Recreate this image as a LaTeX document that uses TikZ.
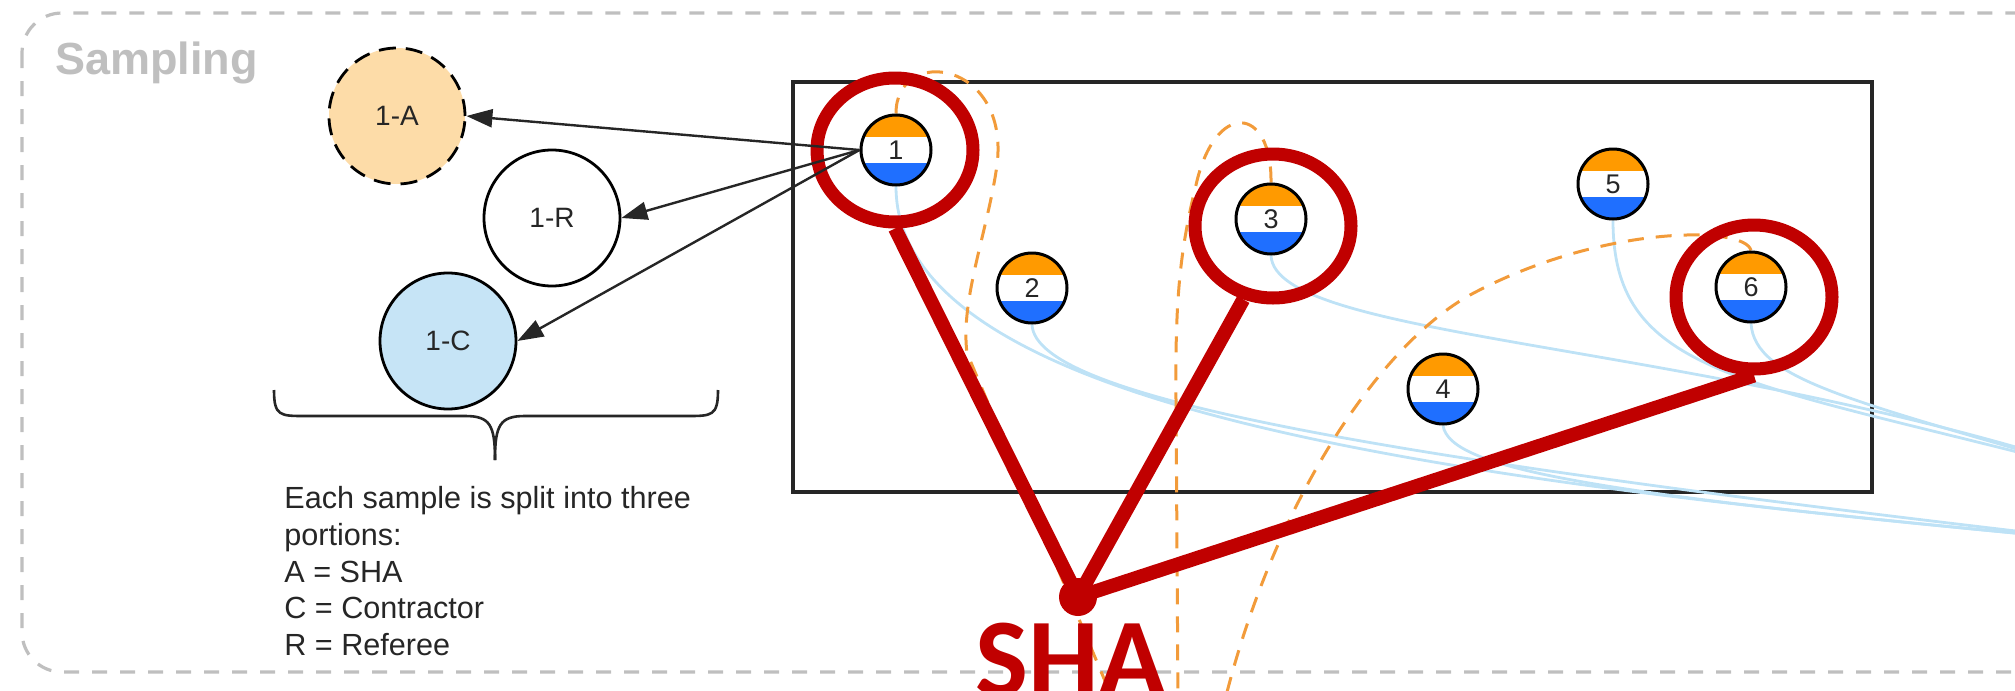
\documentclass[tikz,border=0pt]{standalone}
\usepackage{fontspec}
\setmainfont{Liberation Sans}
\newfontfamily\labfont{Carlito}
\usetikzlibrary{arrows.meta,shapes.geometric,backgrounds}

\definecolor{lanegray}{HTML}{BFBFBF}
\definecolor{portA}{HTML}{FDDCA8}
\definecolor{portC}{HTML}{C6E4F6}
\definecolor{bandorange}{HTML}{FF9A00}
\definecolor{bandblue}{HTML}{1F6FFF}
\definecolor{shared}{HTML}{C00000}
\definecolor{trackblue}{HTML}{BEE2F6}
\definecolor{trackorange}{HTML}{F29B3A}
\definecolor{ink}{HTML}{262626}

\begin{document}
\begin{tikzpicture}[x=0.5pt,y=-0.5pt,
  sample/.style={circle,draw=black,line width=1.5pt,fill=white,minimum size=35pt,inner sep=0pt,
    text=ink,font=\fontsize{13.5}{13.5}\selectfont,
    path picture={
      \fill[bandorange] (path picture bounding box.north west) rectangle ([yshift=-11pt]path picture bounding box.north east);
      \fill[bandblue] (path picture bounding box.south west) rectangle ([yshift=11pt]path picture bounding box.south east);}},
  portion/.style={circle,draw=black,line width=1.4pt,minimum size=68pt,inner sep=0pt,
    text=ink,font=\fontsize{14}{14}\selectfont},
  ring/.style={ellipse,draw=shared,line width=6.5pt,minimum width=78pt,minimum height=72pt,inner sep=0pt},
  track/.style={trackblue,line width=1.4pt},
  link/.style={trackorange,line width=1.5pt,dash pattern=on 8pt off 6pt},
  split/.style={-{Triangle[length=13pt,width=9pt]},line width=1.2pt,ink}]

\useasboundingbox (0,0) rectangle (2015,691);

% samples on the plot
\node[sample] (s1) at (896,150) {1};
\node[sample] (s2) at (1032,288) {2};
\node[sample] (s3) at (1271,219) {3};
\node[sample] (s4) at (1443,389) {4};
\node[sample] (s5) at (1613,184) {5};
\node[sample] (s6) at (1751,287) {6};

\coordinate (outC1) at (2110,542);
\coordinate (outC2) at (2110,476);
\coordinate (outA1) at (1113,700);
\coordinate (outA3) at (1178,700);
\coordinate (outA6) at (1225,700);

\begin{pgfonlayer}{background}
\draw[lanegray,line width=1.6pt,dash pattern=on 7.5pt off 6.5pt,rounded corners=20pt] (22,13) rectangle (2200,672);
\draw[ink,line width=1.6pt] (793,82) rectangle (1872,492);

% contractor portions
\draw[track] (s1.south) .. controls (896,420) and (1500,485) .. (outC1);
\draw[track] (s2.south) .. controls (1035,400) and (1400,460) .. (outC1);
\draw[track] (s4.south) .. controls (1450,470) and (1600,495) .. (outC1);
\draw[track] (s3.south) .. controls (1275,340) and (1700,340) .. (outC2);
\draw[track] (s5.south) .. controls (1613,380) and (1750,380) .. (outC2);
\draw[track] (s6.south) .. controls (1755,380) and (1850,400) .. (outC2);

% SHA portions
\draw[link] (s1.north) .. controls (896,45) and (1010,60) .. (997,165)
  .. controls (988,230) and (960,300) .. (967,353) -- (outA1);
\draw[link] (s3.north) .. controls (1272,105) and (1215,100) .. (1196,185)
  .. controls (1180,250) and (1175,300) .. (1176,400) -- (outA3);
\draw[link] (s6.north) .. controls (1745,225) and (1600,225) .. (1470,295)
  .. controls (1380,345) and (1275,500) .. (outA6);
\end{pgfonlayer}

\node[lanegray,font=\bfseries\fontsize{22.5}{22.5}\selectfont,anchor=base west,inner sep=0pt] (lane) at (55,74) {Sampling};

% split samples
\node[ring] (r1) at (895,150) {};
\node[ring] (r3) at (1273,226) {};
\node[ring] (r6) at (1754,297) {};
\node[circle,fill=shared,minimum size=19pt,inner sep=0pt] (hub) at (1078,597) {};
\draw[shared,line width=7pt] (r1.south) -- (hub.center);
\draw[shared,line width=7pt] (r3.248) -- (hub.center);
\draw[shared,line width=7pt] (r6.south) -- (hub.center);
\node[shared,font=\labfont\bfseries\fontsize{56}{56}\selectfont,anchor=base,inner sep=0pt] (sha) at (1071,696) {SHA};

% the three portions
\node[portion,fill=portA,dash pattern=on 8.5pt off 5pt] (pa) at (397,116) {1-A};
\node[portion,fill=white] (pr) at (552,218) {1-R};
\node[portion,fill=portC] (pc) at (448,341) {1-C};
\draw[split] (s1.west) -- (pa.east);
\draw[split] (s1.west) -- (pr.east);
\draw[split] (s1.west) -- (pc.east);

\draw[ink,line width=1.3pt] (274,390) .. controls (274,416) and (280,416) .. (305,416) -- (465,416)
  .. controls (490,416) and (495,425) .. (495,460);
\draw[ink,line width=1.3pt] (718,390) .. controls (718,416) and (712,416) .. (687,416) -- (525,416)
  .. controls (500,416) and (495,425) .. (495,460);

\node[anchor=north west,align=left,inner sep=0pt,text=ink,font=\fontsize{15.3}{18.4}\selectfont] (key) at (284,486)
  {Each sample is split into three\\portions:\\A = SHA\\C = Contractor\\R = Referee};
\end{tikzpicture}
\end{document}
